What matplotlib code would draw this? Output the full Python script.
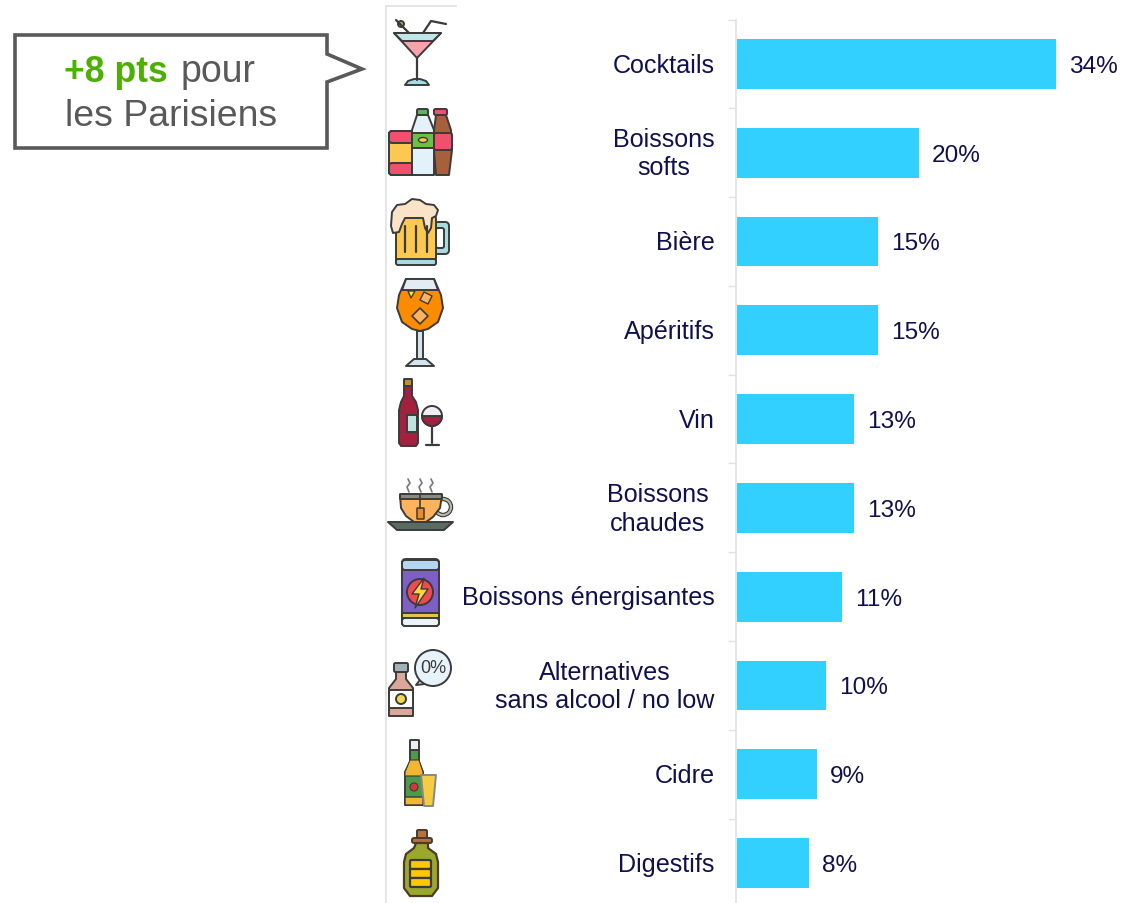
import matplotlib
matplotlib.use("Agg")
import matplotlib.pyplot as plt
from matplotlib.patches import Polygon, Circle, Ellipse, Wedge, FancyBboxPatch

plt.rcParams['font.family'] = ['Liberation Sans', 'DejaVu Sans']

#Chart data
categories = ["Cocktails", "Boissons\nsofts", "Bière", "Apéritifs", "Vin", "Boissons\nchaudes",
              "Boissons énergisantes", "Alternatives\nsans alcool / no low", "Cidre", "Digestifs"]
values = [34.0, 19.4, 15.1, 15.1, 12.5, 12.5, 11.2, 9.5, 8.6, 7.7]
value_labels = ["34%", "20%", "15%", "15%", "13%", "13%", "11%", "10%", "9%", "8%"]
label_pad = [22, 22, 22, 22, 22, 28, 22, 22, 22, 22] #px left of the axis

W, H = 1122, 904
NAVY = '#10104f'
GREY = '#e2e2e2'
INK = '#3b3b3b'

fig = plt.figure(figsize=(W/100, H/100), dpi=100)

#Bars, axis is placed so that 0% falls on x=736.6 and 1% is 9.38 px
ax = fig.add_axes([736.6/W, 0, (W-736.6)/W, (H-20.5)/H])
ax.barh(range(len(values)), values, height=0.562, color='#31d0ff')
ax.set_xlim(0, (W-736.6)/9.38)
ax.set_ylim(9.45, -0.5)
ax.set_xticks([])
ax.set_yticks([i - 0.5 for i in range(10)])
ax.set_yticklabels([])
ax.tick_params(axis='y', length=6, width=1, color=GREY)
for s in ['top', 'right', 'bottom']:
    ax.spines[s].set_visible(False)
ax.spines['left'].set_color(GREY)
ax.spines['left'].set_linewidth(1.2)
ax.spines['left'].set_position(('outward', 0.7))
ax.patch.set_alpha(0)

for i, (v, lab) in enumerate(zip(values, value_labels)):
    ax.annotate(lab, (v, i), xytext=(13*0.72, -2*0.72), textcoords='offset points',
                va='center', ha='left', fontsize=17.6, color=NAVY)
    ax.annotate(categories[i], (0, i), xytext=(-label_pad[i]*0.72, -0.7*0.72), textcoords='offset points',
                va='center', ha='right', multialignment='center', fontsize=18.1,
                color=NAVY, annotation_clip=False, linespacing=1.22)

#Overlay in pixel coordinates for the callout and the icons
ov = fig.add_axes([0, 0, 1, 1], zorder=-1)
ov.set_xlim(0, W)
ov.set_ylim(H-1, -1)
ov.axis('off')


def poly(pts, fc='none', lw=1.4, ec=INK):
    ov.add_patch(Polygon(pts, closed=True, fc=fc, ec=ec, lw=lw, joinstyle='round'))


def rect(x0, y0, x1, y1, fc='none', lw=1.4, ec=INK, r=1.5):
    ov.add_patch(FancyBboxPatch((x0, y0), x1-x0, y1-y0, boxstyle="round,pad=0,rounding_size=%g" % r,
                                fc=fc, ec=ec, lw=lw))


def circ(x, y, r, fc='none', lw=1.4, ec=INK):
    ov.add_patch(Circle((x, y), r, fc=fc, ec=ec, lw=lw))


def line(xs, ys, lw=1.6, c=INK):
    ov.plot(xs, ys, color=c, lw=lw, solid_capstyle='round')


#Left rule of the icon column
ov.plot([386, 386], [6, H], color=GREY, lw=1.2)
ov.plot([386, 456], [6, 6], color=GREY, lw=1.2)

#Callout
ov.add_patch(Polygon([(15, 35), (327, 35), (327, 54), (362, 69), (327, 82), (327, 148), (15, 148)],
                     closed=True, fc='white', ec='#595959', lw=2.6, joinstyle='miter'))
ov.text(64, 81, "+8 pts", fontsize=25.6, fontweight='bold', color='#4cb000', va='baseline')
ov.text(181, 81, "pour", fontsize=27, color='#595959', va='baseline')
ov.text(65, 125, "les Parisiens", fontsize=26.9, color='#595959', va='baseline')

#Cocktail
poly([(394, 33), (441, 33), (417, 58)], fc='#f7a3ab')
poly([(394, 33), (441, 33), (433, 41), (402, 41)], fc='#bfe6ea')
line([417, 417], [58, 80])
poly([(405, 85), (408, 81), (414, 79), (420, 79), (426, 81), (429, 85)], fc='#a5dbe2')
line([396, 409], [20, 33])
circ(401, 24, 3, fc='#8cc63f')
line([423, 431, 446], [33, 21, 24])

#Soft drinks
rect(389, 131, 414, 175, fc='#fdc84f', r=3)
rect(389, 131, 414, 143, fc='#f0506e', r=3)
rect(389, 163, 414, 175, fc='#f0506e', r=3)
poly([(417, 115), (428, 115), (434, 130), (434, 175), (412, 175), (412, 130)], fc='#e3f1fb')
rect(412, 133, 434, 148, fc='#6cc04a', r=0.5)
ov.add_patch(Ellipse((423, 140), 9, 5, fc='#fdc84f', ec=INK, lw=1))
rect(417, 109, 428, 115, fc='#55b95a')
poly([(436, 115), (446, 115), (451, 130), (452, 150), (449, 175), (436, 175), (434, 150), (434, 130)], fc='#a8603c')
rect(434, 133, 452, 150, fc='#f0506e', r=2)
rect(434, 109, 447, 115, fc='#f0506e')

#Beer
rect(434, 222, 449, 254, fc='#a7dbe0', r=4)
rect(436, 228, 444, 248, fc='white', r=2)
rect(396, 215, 436, 265, fc='#fdc84f', r=4)
rect(396, 259, 436, 265, fc='#a7dbe0', r=2)
for x in [405, 416, 427]:
    line([x, x], [226, 252])
poly([(391, 226), (392, 212), (397, 205), (405, 204), (412, 199), (420, 200), (426, 204), (434, 205),
      (438, 210), (436, 216), (432, 218), (431, 228), (428, 233), (425, 228), (423, 218), (405, 218),
      (402, 224), (399, 232), (393, 233)], fc='#fbe3c8')

#Aperitif
poly([(406, 279), (434, 279), (441, 295), (443, 308), (438, 322), (428, 329), (420, 331),
      (412, 329), (402, 322), (397, 308), (399, 295)], fc='#fb8c00')
poly([(406, 279), (434, 279), (438, 290), (402, 290)], fc='#e3ecf5')
poly([(408, 291), (415, 291), (411, 298)], fc='#ffe14d', lw=1)
poly([(424, 292), (432, 296), (428, 304), (420, 300)], fc='#fdb35e', lw=1)
poly([(420, 308), (428, 316), (420, 324), (412, 316)], fc='#fdb35e', lw=1.2)
rect(417, 331, 423, 359, fc='#d5e3ec', r=0.5)
poly([(406, 366), (434, 366), (426, 359), (414, 359)], fc='#d5e3ec')

#Wine
poly([(404, 386), (412, 386), (412, 396), (416, 402), (418, 410), (418, 443), (416, 446), (401, 446),
      (399, 443), (399, 410), (401, 402), (404, 396)], fc='#a3213f')
rect(404, 379, 412, 386, fc='#b8923a', r=0.5)
rect(407, 415, 417, 432, fc='#bfe3dd', r=0.5)
circ(432, 416, 10, fc='#f0eef5')
ov.add_patch(Wedge((432, 416), 10, 0, 180, fc='#a3213f', ec=INK, lw=1.4))
line([432, 432], [426, 443])
line([426, 439], [445, 445])

#Hot drink
for x in [408, 420, 431]:
    line([x, x+2, x-1, x+1], [479, 483, 487, 492], lw=1.2, c='#777777')
ov.add_patch(Circle((443, 507), 8, fc='none', ec=INK, lw=3.2))
ov.add_patch(Circle((443, 507), 8, fc='none', ec='#b5b5ad', lw=1.6))
poly([(400, 495), (442, 495), (440, 508), (433, 517), (426, 522), (414, 522), (406, 516), (401, 508)], fc='#fdb35e')
rect(400, 494, 442, 499, fc='#8a8a80', r=0.5)
line([420, 420], [494, 508], lw=1.2)
rect(417, 508, 424, 519, fc='#f08a24', lw=1.1, r=0.5)
poly([(388, 522), (453, 522), (444, 530), (397, 530)], fc='#5a6b62')

#Energy drink
rect(402, 559, 439, 626, fc='#7e5fc6', r=4)
rect(402, 560, 439, 570, fc='#b5d6ef', r=3)
rect(402, 613, 439, 618, fc='#e5c34a', r=0.5)
rect(402, 618, 439, 626, fc='#e8f3fb', r=3)
circ(420, 592, 13, fc='#ef4a50')
poly([(424, 578), (412, 594), (419, 594), (415, 608), (428, 589), (421, 589)], fc='#ffd23f', lw=1)

#Alcohol free
poly([(396, 672), (406, 672), (406, 679), (413, 688), (413, 716), (389, 716), (389, 688), (396, 679)], fc='#dba79a')
rect(394, 663, 408, 672, fc='#9fb1b8')
rect(389, 690, 413, 708, fc='white', r=0.5)
circ(401, 699, 5, fc='#f4d94e')
poly([(420, 680), (416, 685), (425, 684)], fc='#e6f3fb')
circ(433, 668, 18, fc='#e6f3fb')
ov.text(433, 668, "0%", fontsize=13, color=INK, ha='center', va='center')

#Cider
poly([(410, 750), (419, 750), (419, 762), (423, 772), (423, 805), (405, 805), (405, 772), (410, 762)], fc='#4c9a4a')
rect(410, 740, 419, 750, fc='#e9eef0', r=0.5)
poly([(410, 760), (419, 760), (423, 772), (423, 776), (405, 776), (405, 772)], fc='#f2b632', lw=0.8)
rect(405, 797, 423, 805, fc='#f2b632', lw=1, r=0.5)
circ(414, 787, 4, fc='#d8363c', lw=0.8)
poly([(421, 775), (436, 775), (433, 806), (424, 806)], fc='#f6cd42', ec='#888888')

#Digestif
rect(417, 830, 427, 838, fc='#b8703f', r=1, ec='#4a3b2a')
rect(412, 838, 432, 843, fc='#b8703f', r=2, ec='#4a3b2a')
poly([(416, 843), (428, 843), (428, 848), (436, 854), (438, 862), (438, 888), (432, 896), (410, 896),
      (404, 888), (404, 862), (406, 854), (414, 848)], fc='#9ba82b', lw=1.6, ec='#4a3b2a')
rect(410, 860, 431, 869, fc='#ffc800', lw=1.6, r=1.5)
rect(410, 869, 431, 878, fc='#ffc800', lw=1.6, r=0.5)
rect(410, 878, 431, 887, fc='#ffc800', lw=1.6, r=1.5)

fig.savefig("out.png", dpi=100)
